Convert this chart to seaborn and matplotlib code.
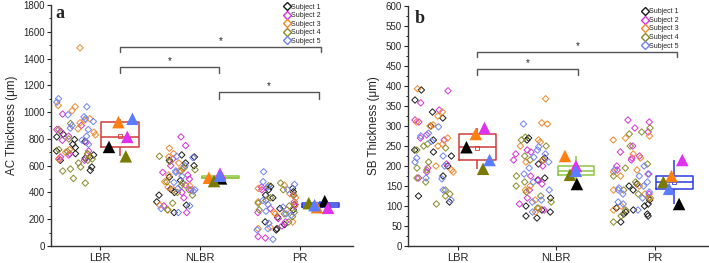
import numpy as np
import pandas as pd
import matplotlib
matplotlib.use("Agg")
import matplotlib.pyplot as plt
from matplotlib.lines import Line2D
from matplotlib.ticker import MultipleLocator
import seaborn as sns

regions = ["LBR", "NLBR", "PR"]
subjects = ["Subject 1", "Subject 2", "Subject 3", "Subject 4", "Subject 5"]

# AC thickness (um), single measurements, one list per subject
ac_lbr = [
    [835, 815, 795, 780, 760, 735, 710, 690, 680, 665, 655, 640, 590, 565],
    [985, 900, 870, 855, 820, 790, 775, 710, 690, 680, 665, 650, 640],
    [1480, 1050, 1040, 1010, 950, 940, 920, 875, 850, 830, 720, 700, 685, 650],
    [915, 870, 800, 720, 705, 690, 650, 640, 620, 590, 575, 560, 505, 470],
    [1100, 1075, 1040, 980, 965, 950, 930, 900, 880, 870, 820, 790, 760],
]
ac_nlbr = [
    [680, 665, 640, 620, 600, 515, 490, 425, 400, 380, 330, 305, 250],
    [815, 750, 650, 600, 550, 530, 500, 455, 420, 400, 360, 300, 250],
    [730, 690, 665, 620, 580, 560, 530, 480, 450, 440, 420, 305, 270],
    [670, 630, 585, 570, 560, 480, 470, 450, 420, 400, 380, 320, 270],
    [670, 660, 600, 560, 550, 520, 475, 430, 420, 410, 300, 280, 250],
]
ac_pr = [
    [445, 430, 420, 405, 380, 360, 310, 280, 270, 215, 180, 160, 130, 120],
    [440, 420, 380, 330, 300, 280, 250, 205, 180, 150, 70, 60],
    [455, 430, 390, 360, 340, 330, 310, 270, 250, 240, 180, 140, 130],
    [470, 450, 420, 380, 360, 340, 320, 300, 270, 250, 240, 220, 180],
    [555, 480, 460, 440, 420, 340, 310, 290, 260, 240, 230, 170, 130, 120, 50],
]
# subject means (triangles)
ac_means = [[740, 815, 925, 670, 950],
            [505, 540, 510, 485, 525],
            [335, 285, 290, 320, 305]]

# SB thickness (um)
sb_lbr = [
    [390, 365, 335, 320, 300, 265, 240, 235, 225, 200, 175, 125, 110],
    [388, 358, 340, 315, 310, 278, 270, 265, 205, 195, 185, 170],
    [393, 335, 325, 310, 303, 300, 270, 255, 250, 200, 190, 185],
    [255, 250, 245, 240, 210, 195, 190, 170, 160, 140, 130, 125, 105],
    [298, 282, 275, 262, 225, 220, 210, 200, 170, 168, 140, 115],
]
sb_nlbr = [
    [270, 265, 220, 215, 205, 170, 165, 120, 100, 90, 85, 75, 70],
    [240, 235, 230, 215, 200, 175, 165, 155, 140, 120, 105, 90],
    [368, 308, 305, 265, 260, 250, 215, 210, 150, 140, 115, 95, 85],
    [272, 265, 250, 225, 215, 175, 160, 150, 135, 125, 110, 95],
    [305, 248, 240, 230, 222, 210, 195, 180, 160, 140, 115, 110, 85],
]
sb_pr = [
    [155, 150, 140, 115, 105, 100, 95, 90, 85, 80, 80, 75, 60],
    [315, 310, 295, 285, 250, 235, 225, 220, 215, 200, 190, 180, 130],
    [275, 270, 265, 230, 220, 190, 185, 175, 150, 140, 130, 120, 100, 90],
    [295, 285, 280, 250, 205, 195, 175, 160, 140, 130, 120, 90, 75, 60],
    [200, 190, 180, 175, 160, 150, 145, 140, 135, 130, 120, 110, 105, 90],
]
sb_means = [[247, 295, 280, 193, 215],
            [155, 200, 225, 178, 188],
            [105, 215, 175, 160, 143]]

# significance brackets: (from, to, height, drop)
ac_brackets = [(0.2, 2.21, 1488, 40), (0.2, 1.19, 1339, 45), (1.19, 2.19, 1148, 50)]
sb_brackets = [(0.2, 2.23, 486, 13), (0.2, 1.22, 442, 15)]

dia_colors = ["#1a1a1a", "#d633d6", "#f08a2c", "#8a8a2a", "#7083f0"]
tri_colors = ["#000000", "#e030f0", "#ff7f10", "#7a7a00", "#5c7cff"]
box_colors = ["#d23c3c", "#8cc63f", "#2b3ce0"]


def long_points(per_region, shift):
    rows = []
    for i, per_subj in enumerate(per_region):
        for subj, vals in zip(subjects, per_subj):
            for v in vals:
                rows.append((i + shift, subj, v))
    return pd.DataFrame(rows, columns=["x", "subject", "value"])


def long_means(means, shift):
    rows = []
    for i, vals in enumerate(means):
        for subj, v in zip(subjects, vals):
            rows.append((i + shift, subj, v))
    return pd.DataFrame(rows, columns=["x", "subject", "value"])


def draw_panel(ax, points, means, ylabel, ymax, major, brackets, letter, letter_pos, leg_anchor, xlim):
    # individual measurements as hollow diamonds
    np.random.seed(11)
    pts = long_points(points, -0.24)
    sns.stripplot(data=pts, x="x", y="value", hue="subject", hue_order=subjects,
                  palette=dia_colors, native_scale=True, orient="x", jitter=0.2,
                  marker="D", size=3.3, linewidth=0.7, legend=False, ax=ax, zorder=2)
    for coll in ax.collections:
        fc = coll.get_facecolors()
        coll.set_edgecolors(fc)
        coll.set_facecolors("none")

    # box of subject means
    for i in range(3):
        bdf = pd.DataFrame({"x": i + 0.2, "value": means[i]})
        sns.boxplot(data=bdf, x="x", y="value", native_scale=True, orient="x",
                    width=0.37, whis=(0, 100), fill=False, color=box_colors[i],
                    linewidth=1.1, showcaps=False, showmeans=True,
                    meanprops=dict(marker="s", markersize=2.5, markerfacecolor="none",
                                   markeredgecolor=box_colors[i], markeredgewidth=0.6),
                    ax=ax, zorder=3)

    # subject means as triangles
    np.random.seed(7)
    mdf = long_means(means, 0.2)
    sns.stripplot(data=mdf, x="x", y="value", hue="subject", hue_order=subjects,
                  palette=tri_colors, native_scale=True, orient="x", jitter=0.13,
                  marker="^", size=9, linewidth=0, legend=False, ax=ax, zorder=4)

    for x1, x2, y, d in brackets:
        ax.plot([x1, x1, x2, x2], [y - d, y, y, y - d], color="#555555", lw=1, zorder=1)
        ax.text((x1 + x2) / 2, y + ymax * 0.004, "*", ha="center", va="bottom",
                fontsize=7, color="#222222")

    ax.set_xlim(*xlim)
    ax.set_ylim(0, ymax)
    ax.set_xticks([0, 1, 2])
    ax.set_xticklabels(regions)
    ax.yaxis.set_major_locator(MultipleLocator(major))
    ax.yaxis.set_minor_locator(MultipleLocator(major / 2))
    ax.tick_params(axis="y", which="major", labelsize=7, length=3, width=0.8, pad=1.5)
    ax.tick_params(axis="y", which="minor", length=1.8, width=0.7)
    ax.tick_params(axis="x", labelsize=8, length=3, width=0.8, pad=2)
    ax.set_xlabel("")
    ax.set_ylabel(ylabel, fontsize=8.4, labelpad=4)
    for side in ["top", "right"]:
        ax.spines[side].set_visible(False)
    for side in ["left", "bottom"]:
        ax.spines[side].set_linewidth(1)
        ax.spines[side].set_color("#333333")

    ax.text(letter_pos[0], letter_pos[1], letter, transform=ax.transAxes,
            fontsize=13, fontweight="bold", family=["Liberation Serif", "DejaVu Serif"],
            ha="left", va="baseline")

    handles = [Line2D([], [], ls="none", marker="D", markersize=3.6, markerfacecolor="none",
                      markeredgecolor=c, markeredgewidth=1) for c in dia_colors]
    leg = ax.legend(handles, subjects, loc="upper left", bbox_to_anchor=leg_anchor,
                    frameon=False, fontsize=5, handlelength=0.7, handletextpad=0.3,
                    labelspacing=0.22, borderpad=0, borderaxespad=0)
    for t in leg.get_texts():
        t.set_color("#222222")


sns.set_theme(style="ticks")
plt.rcParams["font.family"] = ["Liberation Sans", "DejaVu Sans"]

fig = plt.figure(figsize=(7.09, 2.63), dpi=100)
ax_a = fig.add_axes([0.0719, 0.0646, 0.4261, 0.9164])
ax_b = fig.add_axes([0.5759, 0.0646, 0.4227, 0.9125])

draw_panel(ax_a, [ac_lbr, ac_nlbr, ac_pr], ac_means, "AC Thickness (\u03bcm)", 1800, 200,
           ac_brackets, "a", (0.013, 0.945), (0.772, 1.005), (-0.49, 2.53))
draw_panel(ax_b, [sb_lbr, sb_nlbr, sb_pr], sb_means, "SB Thickness (\u03bcm)", 600, 50,
           sb_brackets, "b", (0.02, 0.928), (0.78, 0.99), (-0.5, 2.54))

fig.savefig("out.png", dpi=100)
